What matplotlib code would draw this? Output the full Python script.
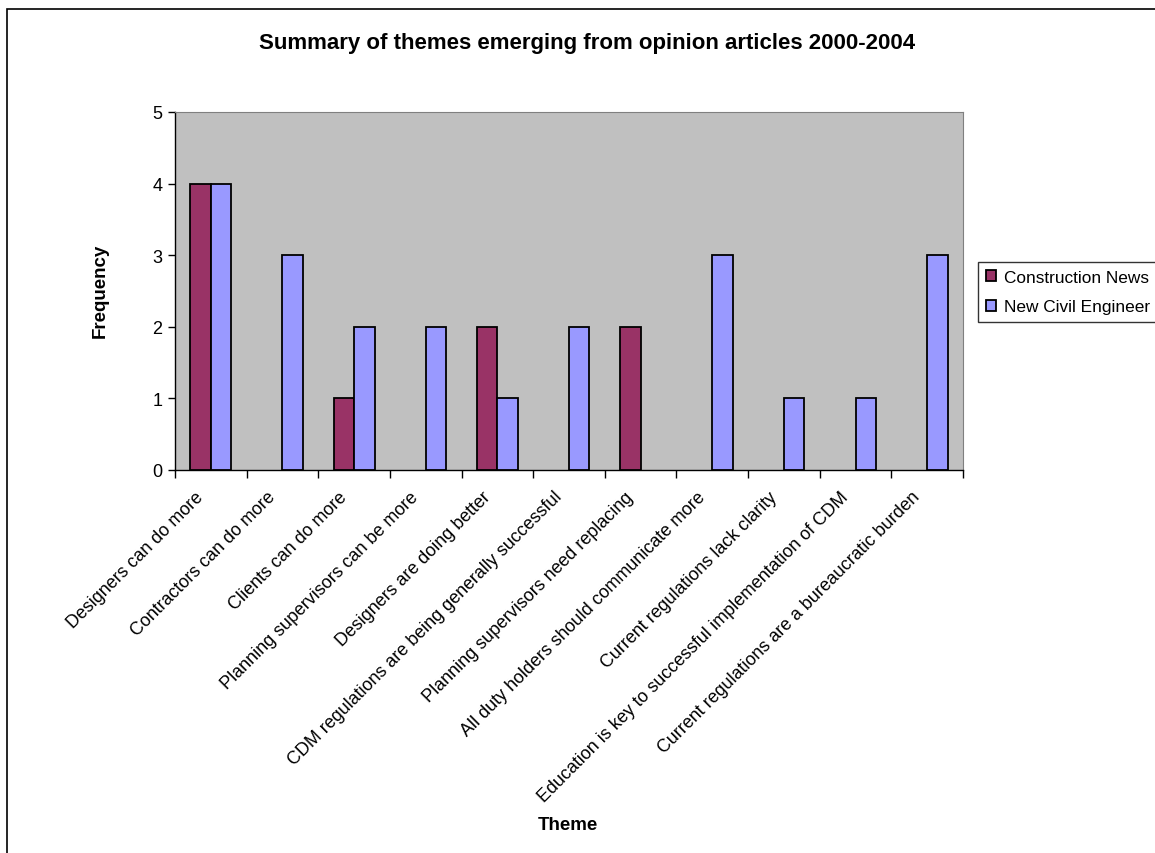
import numpy as np
import matplotlib
matplotlib.use("Agg")
import matplotlib.pyplot as plt
from matplotlib.patches import Rectangle

plt.rcParams['font.family'] = ['Liberation Sans', 'DejaVu Sans']

themes = [
    'Designers can do more',
    'Contractors can do more',
    'Clients can do more',
    'Planning supervisors can be more',
    'Designers are doing better',
    'CDM regulations are being generally successful',
    'Planning supervisors need replacing',
    'All duty holders should communicate more',
    'Current regulations lack clarity',
    'Education is key to successful implementation of CDM',
    'Current regulations are a bureaucratic burden',
]
construction_news = [4, 0, 1, 0, 2, 0, 2, 0, 0, 0, 0]
new_civil_engineer = [4, 3, 2, 2, 1, 2, 0, 3, 1, 1, 3]

W, H = 1155, 854
fig = plt.figure(figsize=(W / 100, H / 100), dpi=100)

# plot area in pixels: left 175, right 963, top 113, bottom 471
ax = fig.add_axes([175 / W, 1 - 471 / H, (963 - 175) / W, (471 - 113) / H])
ax.set_facecolor('#C0C0C0')

x = np.arange(len(themes))
bw = 0.2857
# zero-height bars get no outline so they stay invisible
ax.bar(x - bw / 2, construction_news, bw, color='#993366', edgecolor='black',
       linewidth=[1.3 if v else 0 for v in construction_news],
       label='Construction News', zorder=3)
ax.bar(x + bw / 2, new_civil_engineer, bw, color='#9999FF', edgecolor='black',
       linewidth=[1.3 if v else 0 for v in new_civil_engineer],
       label='New Civil Engineer', zorder=3)

ax.set_xlim(-0.5, len(themes) - 0.5)
ax.set_ylim(0, 5)
ax.set_yticks(range(6))
ax.tick_params(axis='y', direction='out', length=5, width=1, labelsize=13, pad=4)

# ticks on category boundaries, labels at centres
ax.set_xticks(np.arange(len(themes) + 1) - 0.5)
ax.set_xticklabels([])
ax.tick_params(axis='x', direction='out', length=6, width=1)
for i, t in enumerate(themes):
    ax.text(i - 0.22, -0.25, t, rotation=45, ha='right', va='top',
            rotation_mode='anchor', fontsize=12.9)

for s in ['top', 'right']:
    ax.spines[s].set_color('#808080')
for s in ['left', 'bottom']:
    ax.spines[s].set_color('black')
    ax.spines[s].set_linewidth(1)

fig.text(587 / W, 1 - 44 / H, 'Summary of themes emerging from opinion articles 2000-2004',
         ha='center', va='center', fontsize=16, fontweight='bold')
fig.text(100 / W, 1 - 291 / H, 'Frequency', rotation=90, ha='center', va='center',
         fontsize=13.5, fontweight='bold')
fig.text(568 / W, 1 - 826 / H, 'Theme', ha='center', va='center',
         fontsize=13.5, fontweight='bold')

leg = fig.legend(loc='upper left', bbox_to_anchor=(978 / W, 1 - 263 / H),
                 frameon=True, fancybox=False, edgecolor='black', fontsize=12.4,
                 handlelength=0.6, handleheight=0.6, handletextpad=0.45,
                 borderpad=0.45, labelspacing=0.85, borderaxespad=0)
leg.get_frame().set_linewidth(1)

# outer chart frame, running off the right and bottom edges
fig.patches.append(Rectangle((7 / W, -0.1), 1.2, 1 - 10 / H + 0.1,
                             transform=fig.transFigure, fill=False,
                             edgecolor='black', linewidth=1.2))

fig.savefig('out.png', dpi=100)
